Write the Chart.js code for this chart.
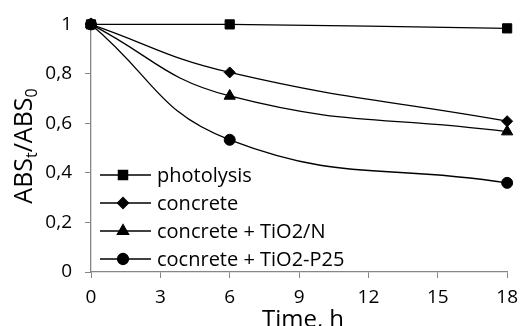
<!DOCTYPE html>
<html>
<head>
<meta charset="utf-8">
<script src="https://cdn.jsdelivr.net/npm/chart.js@4/dist/chart.umd.min.js"></script>
<style>
  html, body { margin: 0; padding: 0; background: #fff; }
  #wrap { width: 526px; height: 326px; }
</style>
</head>
<body>
<div id="wrap"><canvas id="chartCanvas" width="526" height="326"></canvas></div>
<script>
// Data
var hours = [0, 6, 18];
var photolysis = [1, 1, 0.984];
var concrete = [1, 0.806, 0.609];
var concreteTiO2N = [1, 0.711, 0.567];
var concreteP25 = [1, 0.534, 0.36];
var seriesNames = ['photolysis', 'concrete', 'concrete + TiO2/N', 'cocnrete + TiO2-P25'];
var xTicks = [0, 3, 6, 9, 12, 15, 18];
var yTicks = [0, 0.2, 0.4, 0.6, 0.8, 1];

var FONT = '"Open Sans", sans-serif';
var AXIS_GREY = '#868686';

function toPoints(values) {
  var pts = [];
  for (var i = 0; i < hours.length; i++) {
    pts.push({ x: hours[i], y: values[i] });
  }
  return pts;
}

function makeDataset(label, values, style, radius) {
  return {
    label: label,
    data: toPoints(values),
    borderColor: '#000',
    backgroundColor: '#000',
    borderWidth: 1.3,
    pointStyle: style,
    pointRadius: radius,
    pointHoverRadius: radius,
    pointBackgroundColor: '#000',
    pointBorderColor: '#000',
    pointBorderWidth: 1,
    tension: 0.45,
    clip: false
  };
}

// Axis titles and in-plot legend
var decorations = {
  id: 'decorations',
  afterDraw: function(chart) {
    var ctx = chart.ctx;
    var area = chart.chartArea;
    ctx.save();
    ctx.fillStyle = '#000';

    // y title with subscripts
    var big = '25px ' + FONT;
    var small = '16px ' + FONT;
    var parts = [['ABS', big, 0], ['t', small, 5], ['/ABS', big, 0], ['0', small, 5]];
    var total = 0;
    parts.forEach(function(p) { ctx.font = p[1]; total += ctx.measureText(p[0]).width; });
    ctx.translate(32, 146);
    ctx.rotate(-Math.PI / 2);
    ctx.textBaseline = 'alphabetic';
    ctx.textAlign = 'left';
    var px = -total / 2;
    parts.forEach(function(p) {
      ctx.font = p[1];
      ctx.fillText(p[0], px, p[2]);
      px += ctx.measureText(p[0]).width;
    });
    ctx.setTransform(1, 0, 0, 1, 0, 0);

    // x title
    ctx.font = '24px ' + FONT;
    ctx.textAlign = 'center';
    ctx.textBaseline = 'alphabetic';
    ctx.fillText('Time, h', 303, 327);

    // legend
    ctx.font = '20px ' + FONT;
    ctx.textAlign = 'left';
    ctx.textBaseline = 'middle';
    chart.data.datasets.forEach(function(ds, i) {
      var y = 175 + i * 28;
      ctx.strokeStyle = '#000';
      ctx.lineWidth = 1.3;
      ctx.beginPath();
      ctx.moveTo(100, y);
      ctx.lineTo(151, y);
      ctx.stroke();
      ctx.fillStyle = '#000';
      Chart.helpers.drawPoint(ctx, {
        pointStyle: ds.pointStyle,
        radius: ds.pointRadius,
        borderWidth: 1,
        rotation: 0
      }, 123, y);
      ctx.fillText(ds.label, 157, y + 1);
    });
    ctx.restore();
  }
};

var chart = new Chart(document.getElementById('chartCanvas'), {
  type: 'line',
  data: {
    datasets: [
      makeDataset(seriesNames[0], photolysis, 'rect', 6.5),
      makeDataset(seriesNames[1], concrete, 'rectRot', 5.5),
      makeDataset(seriesNames[2], concreteTiO2N, 'triangle', 6.5),
      makeDataset(seriesNames[3], concreteP25, 'circle', 5.5)
    ]
  },
  options: {
    responsive: false,
    animation: false,
    events: [],
    layout: { padding: { top: 19, right: 13, left: 0, bottom: 0 } },
    plugins: {
      legend: { display: false },
      tooltip: { enabled: false }
    },
    scales: {
      x: {
        type: 'linear',
        min: 0,
        max: 18,
        afterBuildTicks: function(scale) {
          scale.ticks = xTicks.map(function(v) { return { value: v }; });
        },
        afterFit: function(scale) { scale.height = 54; },
        grid: { drawOnChartArea: false, drawTicks: true, tickLength: 6, color: AXIS_GREY, lineWidth: 1 },
        border: { color: AXIS_GREY, width: 1.3 },
        ticks: { color: '#000', font: { family: FONT, size: 19 }, padding: 8, maxRotation: 0 }
      },
      y: {
        min: 0,
        max: 1,
        afterBuildTicks: function(scale) {
          scale.ticks = yTicks.map(function(v) { return { value: v }; });
        },
        afterFit: function(scale) { scale.width = 91; },
        grid: { drawOnChartArea: false, drawTicks: true, tickLength: 6, color: AXIS_GREY, lineWidth: 1 },
        border: { color: AXIS_GREY, width: 1.3 },
        ticks: {
          color: '#000',
          font: { family: FONT, size: 19 },
          padding: 13,
          callback: function(v) {
            if (v === 0 || v === 1) return String(v);
            return v.toFixed(1).replace('.', ',');
          }
        }
      }
    }
  },
  plugins: [decorations]
});
</script>
</body>
</html>
